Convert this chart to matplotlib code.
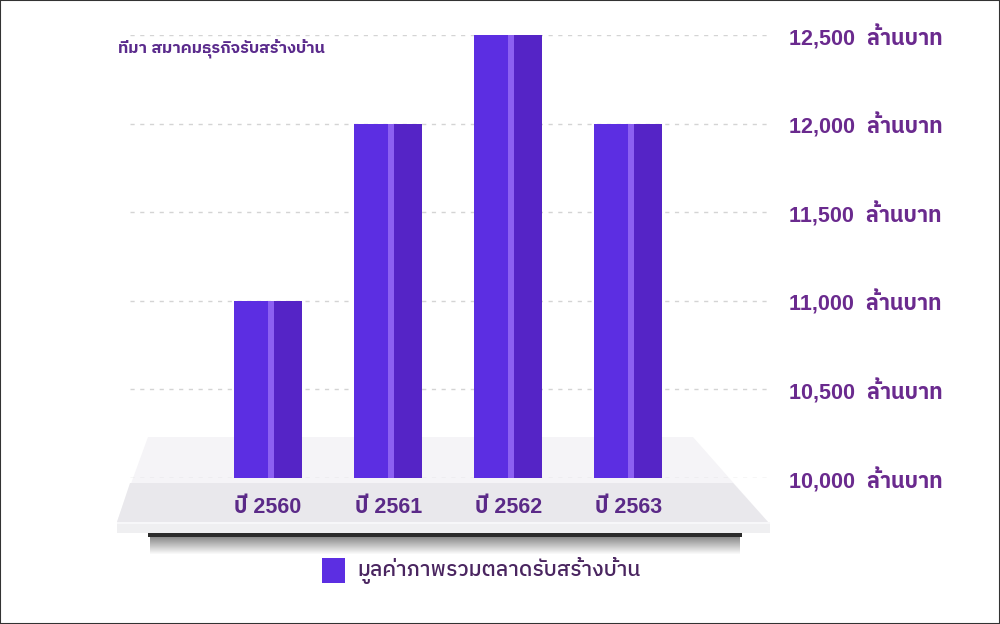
import matplotlib
matplotlib.use("Agg")
import matplotlib.pyplot as plt
from matplotlib.patches import Polygon, Rectangle
import numpy as np

years = ["ปี 2560", "ปี 2561", "ปี 2562", "ปี 2563"]
values = [11000, 12000, 12500, 12000]
yticks = [10000, 10500, 11000, 11500, 12000, 12500]
unit = "ล้านบาท"
source = "ที่มา สมาคมธุรกิจรับสร้างบ้าน"
legend_label = "มูลค่าภาพรวมตลาดรับสร้างบ้าน"

FAM = ["Liberation Sans", "IBM Plex Sans Thai", "Noto Sans Thai", "DejaVu Sans"]
plt.rcParams["font.family"] = FAM

BAR = "#5c2ee2"
BAR_DARK = "#5524c6"
BAR_HI = "#8c60f2"
PURPLE = "#6a2a8e"

fig = plt.figure(figsize=(10, 6.24), dpi=100)
fig.patch.set_facecolor("white")


def P(x, y):
    return (x / 1000, 1 - y / 624)


def add_poly(pts, color, z=0, alpha=1.0):
    fig.patches.append(Polygon([P(*p) for p in pts], closed=True,
                               transform=fig.transFigure, facecolor=color,
                               edgecolor="none", zorder=z, alpha=alpha))


# platform decoration
add_poly([(148, 437), (693, 437), (768, 522), (117, 522)], "#f5f4f7")
add_poly([(130, 483), (733, 483), (768, 522), (117, 522)], "#e9e8ec")
add_poly([(117, 522), (770, 522), (770, 533), (117, 533)], "#efeff1")
add_poly([(117, 522), (770, 522), (770, 524), (117, 524)], "#f7f7f9")
add_poly([(148, 533), (742, 533), (742, 537), (148, 537)], "#2b2b2b")
shades = np.linspace(0.55, 1.0, 18)
for i, s in enumerate(shades):
    c = (s, s, s)
    add_poly([(150, 537 + i), (740, 537 + i), (740, 538 + i), (150, 538 + i)], c)

ax = fig.add_axes([0.13, 1 - 478 / 624, 0.64, (478 - 35) / 624])
ax.set_facecolor("none")
ax.set_zorder(2)

x = np.arange(len(values))
w = 0.567
base = yticks[0]
h = [v - base for v in values]
ax.bar(x, h, width=w, bottom=base, color=BAR, zorder=3)
ax.bar(x + w * 0.27, h, width=w * 0.46, bottom=base, color=BAR_DARK, zorder=3)
ax.bar(x + w * 0.04, h, width=w * 0.08, bottom=base, color=BAR_HI, zorder=4)

ax.set_xlim(-1.15, 4.18)
ax.set_ylim(yticks[0], yticks[-1])
ax.set_yticks(yticks)
ax.yaxis.tick_right()
ax.set_yticklabels([f"{v:,}  {unit}" for v in yticks], fontsize=15.5,
                   color=PURPLE, fontweight="bold")
ax.tick_params(axis="y", length=0, pad=14)
ax.set_xticks(x)
ax.set_xticklabels(years, fontsize=15.5, color="#5b2a88", fontweight="bold")
ax.tick_params(axis="x", length=0, pad=14)
ax.grid(axis="y", color="#d4d4d4", linestyle=(0, (3, 4)), linewidth=1)
ax.set_axisbelow(True)
for s in ax.spines.values():
    s.set_visible(False)

fig.text(118 / 1000, 1 - 48 / 624, source, fontsize=11.8, color="#5a2a8c",
         va="center", ha="left", fontweight="bold")

# legend
fig.patches.append(Rectangle(P(322, 583), 23 / 1000, 25 / 624, transform=fig.transFigure,
                             facecolor=BAR, edgecolor="none", zorder=3))
fig.text(357 / 1000, 1 - 571 / 624, legend_label, fontsize=15.2, color="#4a2560",
         va="center", ha="left", fontweight="medium")

fig.patches.append(Rectangle((0, 0), 1, 1, transform=fig.transFigure, fill=False,
                             edgecolor="#333333", linewidth=1.5, zorder=5))
fig.savefig("out.png", dpi=100)
